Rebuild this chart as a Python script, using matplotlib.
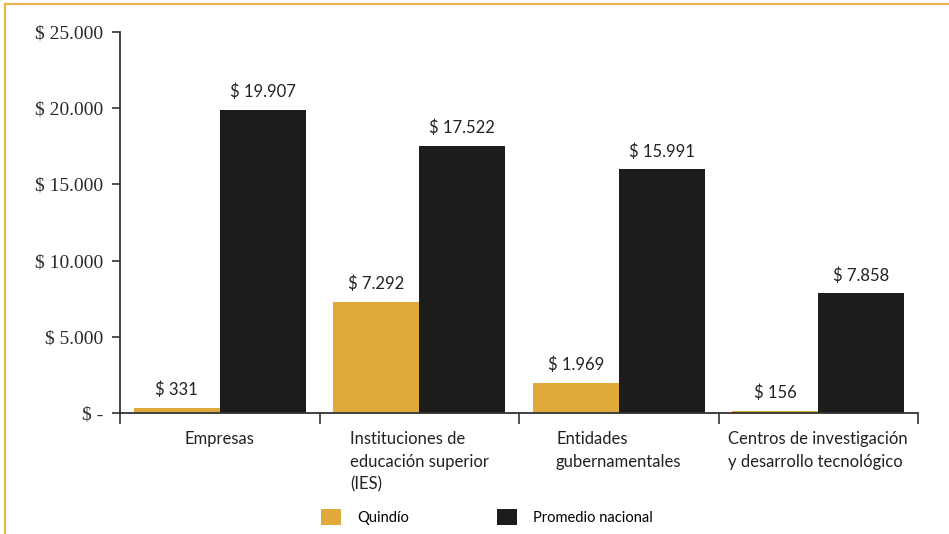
import matplotlib
matplotlib.use("Agg")
import matplotlib.pyplot as plt
import numpy as np
from matplotlib.lines import Line2D
from matplotlib.patches import Patch

categorias = [
    "Empresas",
    "Instituciones de\neducación superior\n(IES)",
    "Entidades\ngubernamentales",
    "Centros de investigación\ny desarrollo tecnológico",
]
quindio = [331, 7292, 1969, 156]
promedio = [19907, 17522, 15991, 7858]
series = ["Quindío", "Promedio nacional"]

COLOR_Q = "#E0A93A"
COLOR_P = "#1E1C1A"
BORDE = "#E9B44C"


def fmt_miles(v):
    if v == 0:
        return "$ -"
    return "$ " + f"{v:,.0f}".replace(",", ".")


fig = plt.figure(figsize=(9.49, 5.34), dpi=100)
ax = fig.add_axes([120 / 949, 121 / 534, 798 / 949, 381 / 534])

x = np.arange(len(categorias))
ancho = 0.43
b1 = ax.bar(x - ancho / 2, quindio, ancho, color=COLOR_Q)
b2 = ax.bar(x + ancho / 2, promedio, ancho, color=COLOR_P)

for barras, vals in ((b1, quindio), (b2, promedio)):
    for rect, v in zip(barras, vals):
        ax.annotate(fmt_miles(v), (rect.get_x() + rect.get_width() / 2, v),
                    xytext=(0, 7), textcoords="offset points",
                    ha="center", va="bottom", fontsize=12, family="Lato", color="#222222")

ax.set_xlim(-0.5, len(categorias) - 0.5)
ax.set_ylim(0, 25000)
ax.set_yticks(np.arange(0, 25001, 5000))
ax.set_yticklabels([fmt_miles(v) for v in np.arange(0, 25001, 5000)],
                   family="Liberation Serif", fontsize=14, color="#2a2a2a")

ax.set_xticks(np.arange(-0.5, len(categorias), 1))
ax.set_xticklabels([])
ax.set_xticks(x, minor=True)
ax.set_xticklabels(categorias, minor=True, family="Lato", fontsize=12,
                   ha="center", va="top", multialignment="left",
                   linespacing=1.5, color="#222222")
ax.tick_params(axis="x", which="major", direction="out", length=8, width=1.2, color="#333333")
ax.tick_params(axis="x", which="minor", length=0, pad=13)
ax.tick_params(axis="y", direction="out", length=6, width=1.2, color="#333333", pad=6)

for s in ("top", "right"):
    ax.spines[s].set_visible(False)
for s in ("left", "bottom"):
    ax.spines[s].set_linewidth(1.3)
    ax.spines[s].set_color("#333333")

handles = [Patch(facecolor=COLOR_Q), Patch(facecolor=COLOR_P)]
fig.legend(handles, series, loc="center", bbox_to_anchor=(487 / 949, 1 - 517 / 534),
           ncol=2, frameon=False, prop={"family": "Lato", "size": 10.5},
           handlelength=1.4, handleheight=1.4, handletextpad=1.1, columnspacing=6)

fig.add_artist(Line2D([4.5 / 949, 4.5 / 949], [0, 1 - 3.5 / 534], color=BORDE, lw=1.5))
fig.add_artist(Line2D([4.5 / 949, 1], [1 - 3.5 / 534, 1 - 3.5 / 534], color=BORDE, lw=1.5))

fig.savefig("out.png", dpi=100)
